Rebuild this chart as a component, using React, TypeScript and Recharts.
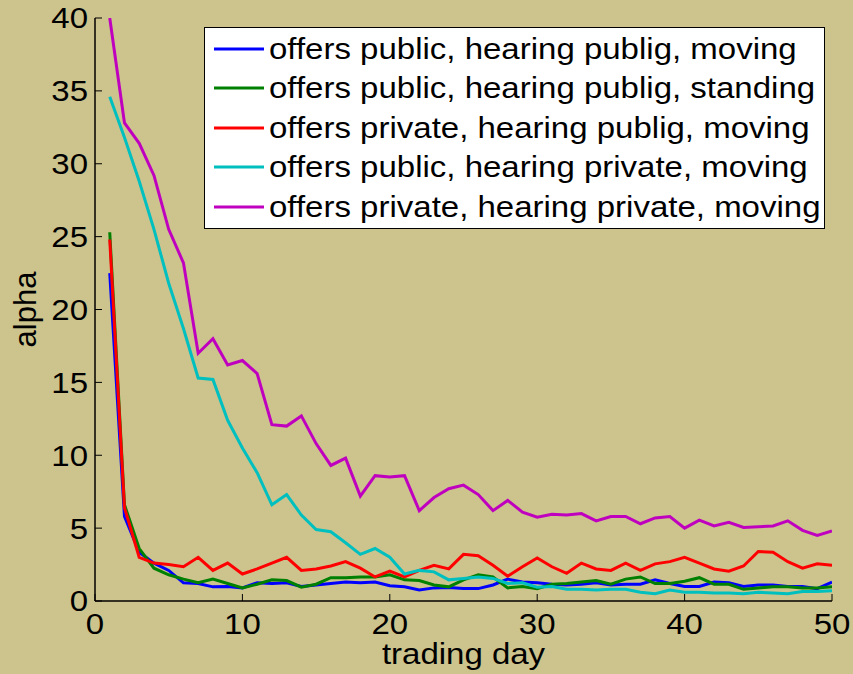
import React from 'react';
import { LineChart, Line, XAxis, YAxis, Legend } from 'recharts';

const days = [
  1, 2, 3, 4, 5, 6, 7, 8, 9, 10, 11, 12, 13, 14, 15, 16, 17, 18, 19, 20, 21, 22, 23, 24, 25,
  26, 27, 28, 29, 30, 31, 32, 33, 34, 35, 36, 37, 38, 39, 40, 41, 42, 43, 44, 45, 46, 47, 48, 49, 50,
];

const pubPubMoving = [
  22.5, 5.8, 3.35, 2.6, 2.1, 1.25, 1.2, 0.97, 1.0, 0.9,
  1.25, 1.2, 1.25, 1.0, 1.1, 1.2, 1.3, 1.25, 1.3, 1.05,
  0.97, 0.75, 0.9, 0.92, 0.85, 0.85, 1.1, 1.5, 1.3, 1.25,
  1.15, 1.1, 1.15, 1.25, 1.1, 1.15, 1.15, 1.45, 1.2, 1.0,
  1.0, 1.3, 1.25, 1.0, 1.1, 1.1, 1.0, 1.0, 0.85, 1.3,
];
const pubPubStanding = [
  25.3, 6.6, 3.6, 2.25, 1.8, 1.5, 1.25, 1.5, 1.2, 0.9,
  1.15, 1.45, 1.4, 0.95, 1.15, 1.6, 1.6, 1.65, 1.65, 1.8,
  1.45, 1.4, 1.1, 0.97, 1.45, 1.8, 1.65, 0.9, 1.0, 0.85,
  1.15, 1.2, 1.3, 1.4, 1.15, 1.5, 1.65, 1.2, 1.2, 1.35,
  1.6, 1.15, 1.15, 0.8, 0.9, 0.97, 0.97, 0.9, 0.9, 0.97,
];
const privPubMoving = [
  24.8, 6.4, 3.0, 2.6, 2.5, 2.35, 3.0, 2.1, 2.6, 1.85,
  2.2, 2.6, 3.0, 2.1, 2.2, 2.4, 2.7, 2.25, 1.65, 2.05,
  1.65, 2.1, 2.45, 2.2, 3.2, 3.1, 2.45, 1.7, 2.35, 2.95,
  2.35, 1.9, 2.6, 2.2, 2.1, 2.6, 2.1, 2.55, 2.7, 3.0,
  2.6, 2.2, 2.05, 2.4, 3.4, 3.35, 2.7, 2.25, 2.55, 2.45,
];
const pubPrivMoving = [
  34.6, 31.8, 28.8, 25.5, 21.8, 18.7, 15.3, 15.2, 12.4, 10.5,
  8.8, 6.6, 7.3, 5.9, 4.9, 4.75, 4.0, 3.2, 3.6, 3.0,
  1.85, 2.1, 2.0, 1.45, 1.55, 1.65, 1.55, 1.2, 1.25, 0.95,
  1.0, 0.8, 0.8, 0.75, 0.8, 0.8, 0.6, 0.5, 0.75, 0.6,
  0.6, 0.55, 0.55, 0.5, 0.6, 0.55, 0.5, 0.65, 0.65, 0.7,
];
const privPrivMoving = [
  40, 32.8, 31.4, 29.2, 25.5, 23.2, 17.0, 18.0, 16.2, 16.5,
  15.6, 12.1, 12.0, 12.7, 10.8, 9.3, 9.8, 7.2, 8.6, 8.5,
  8.6, 6.2, 7.1, 7.7, 7.95, 7.3, 6.2, 6.9, 6.1, 5.75,
  5.95, 5.9, 6.0, 5.5, 5.8, 5.8, 5.3, 5.7, 5.8, 5.0,
  5.55, 5.15, 5.4, 5.05, 5.1, 5.15, 5.5, 4.85, 4.5, 4.8,
];

const seriesNames = [
  'offers public, hearing publig, moving',
  'offers public, hearing publig, standing',
  'offers private, hearing publig, moving',
  'offers public, hearing private, moving',
  'offers private, hearing private, moving',
];
const seriesColors = ['#0000ff', '#008000', '#ff0000', '#00bfbf', '#bf00bf'];
const seriesValues = [pubPubMoving, pubPubStanding, privPubMoving, pubPrivMoving, privPrivMoving];

const xTicks = [0, 10, 20, 30, 40, 50];
const yTicks = [0, 5, 10, 15, 20, 25, 30, 35, 40];
const xLabel = 'trading day';
const yLabel = 'alpha';

const data = days.map((d, i) => {
  const row: Record<string, number> = { day: d };
  seriesValues.forEach((vals, k) => {
    row['s' + k] = vals[i];
  });
  return row;
});

const FONT = '"Liberation Sans", Arial, Helvetica, sans-serif';
const BG = '#cdc48d';
const TICK = 7;
const SX = 1.1;

const BottomTick = (props: any) => {
  const { x, y, payload } = props;
  return (
    <g>
      <line x1={x} y1={y} x2={x} y2={y - TICK} stroke="#000" strokeWidth={1} />
      <text
        transform={`translate(${x},${y + 23}) scale(${SX},1)`}
        textAnchor="middle"
        dominantBaseline="central"
        fontSize={30}
        fontFamily={FONT}
        fill="#000"
      >
        {payload.value}
      </text>
    </g>
  );
};

const LeftTick = (props: any) => {
  const { x, y, payload } = props;
  return (
    <g>
      <line x1={x} y1={y} x2={x + TICK} y2={y} stroke="#000" strokeWidth={1} />
      <text
        transform={`translate(${x - 7},${y}) scale(${SX},1)`}
        textAnchor="end"
        dominantBaseline="central"
        fontSize={30}
        fontFamily={FONT}
        fill="#000"
      >
        {payload.value}
      </text>
    </g>
  );
};

const TopTick = (props: any) => {
  const { x, y } = props;
  return <line x1={x} y1={y} x2={x} y2={y + TICK} stroke="#000" strokeWidth={1} />;
};

const RightTick = (props: any) => {
  const { x, y } = props;
  return <line x1={x} y1={y} x2={x - TICK} y2={y} stroke="#000" strokeWidth={1} />;
};

const XTitle = (props: any) => {
  const vb = props.viewBox || { x: 95, y: 601, width: 737, height: 73 };
  const cx = vb.x + vb.width / 2;
  const by = vb.y + 63;
  return (
    <text
      transform={`translate(${cx},${by}) scale(${SX},1)`}
      textAnchor="middle"
      fontSize={30}
      fontFamily={FONT}
      fill="#000"
    >
      {xLabel}
    </text>
  );
};

const YTitle = (props: any) => {
  const vb = props.viewBox || { x: 0, y: 18, width: 95, height: 583 };
  const cy = vb.y + vb.height / 2;
  const bx = vb.x + 36;
  return (
    <text
      transform={`translate(${bx},${cy}) rotate(-90)`}
      textAnchor="middle"
      fontSize={31}
      fontFamily={FONT}
      fill="#000"
    >
      {yLabel}
    </text>
  );
};

const renderLegend = (props: any) => {
  const payload: any[] = (props && props.payload) || [];
  const items = seriesNames.map((n, i) => {
    const found = payload.find((p: any) => p.value === n);
    return { name: n, color: (found && found.color) || seriesColors[i] };
  });
  return (
    <div
      style={{
        width: 621,
        height: 202,
        boxSizing: 'border-box',
        background: '#ffffff',
        border: '1.5px solid #000',
        paddingTop: 1,
        fontFamily: FONT,
      }}
    >
      {items.map((it: any, i: number) => (
        <div
          key={i}
          style={{ height: 39.5, display: 'flex', alignItems: 'center', position: 'relative' }}
        >
          <svg width={60} height={10} style={{ flex: 'none' }}>
            <line x1={9} y1={5} x2={59} y2={5} stroke={it.color} strokeWidth={3} />
          </svg>
          <span
            style={{
              marginLeft: 4,
              fontSize: 30,
              lineHeight: '30px',
              color: '#000',
              whiteSpace: 'nowrap',
              display: 'inline-block',
              transform: `scaleX(${SX})`,
              transformOrigin: 'left center',
            }}
          >
            {it.name}
          </span>
        </div>
      ))}
    </div>
  );
};

export default function App() {
  return (
    <div
      style={{
        position: 'absolute',
        left: 0,
        top: 0,
        width: 853,
        height: 674,
        background: BG,
        overflow: 'hidden',
      }}
    >
      <LineChart
        width={853}
        height={674}
        data={data}
        margin={{ top: 18, right: 21, bottom: 0, left: 0 }}
        style={{ background: BG }}
      >
        <XAxis
          xAxisId="x"
          dataKey="day"
          type="number"
          domain={[0, 50]}
          ticks={xTicks}
          interval={0}
          height={73}
          tickSize={0}
          tickMargin={0}
          tickLine={false}
          tick={<BottomTick />}
          axisLine={{ stroke: '#000', strokeWidth: 1.5 }}
          label={<XTitle />}
          allowDataOverflow
        />
        <XAxis
          xAxisId="top"
          orientation="top"
          dataKey="day"
          type="number"
          domain={[0, 50]}
          ticks={xTicks}
          interval={0}
          height={0}
          tickSize={0}
          tickMargin={0}
          tickLine={false}
          tick={<TopTick />}
          axisLine={{ stroke: '#000', strokeWidth: 1.5 }}
          allowDataOverflow
        />
        <YAxis
          yAxisId="y"
          type="number"
          domain={[0, 40]}
          ticks={yTicks}
          interval={0}
          width={95}
          tickSize={0}
          tickMargin={0}
          tickLine={false}
          tick={<LeftTick />}
          axisLine={{ stroke: '#000', strokeWidth: 1.5 }}
          label={<YTitle />}
          allowDataOverflow
        />
        <YAxis
          yAxisId="right"
          orientation="right"
          type="number"
          domain={[0, 40]}
          ticks={yTicks}
          interval={0}
          width={0}
          tickSize={0}
          tickMargin={0}
          tickLine={false}
          tick={<RightTick />}
          axisLine={{ stroke: '#000', strokeWidth: 1.5 }}
          allowDataOverflow
        />
        {seriesNames.map((name, k) => (
          <Line
            key={name}
            xAxisId="x"
            yAxisId="y"
            type="linear"
            dataKey={'s' + k}
            name={name}
            stroke={seriesColors[k]}
            strokeWidth={3}
            dot={false}
            activeDot={false}
            isAnimationActive={false}
          />
        ))}
        <Legend
          layout="vertical"
          align="center"
          verticalAlign="middle"
          content={renderLegend}
          wrapperStyle={{ position: 'absolute', left: 204, top: 27, width: 621, height: 202 }}
        />
      </LineChart>
    </div>
  );
}
